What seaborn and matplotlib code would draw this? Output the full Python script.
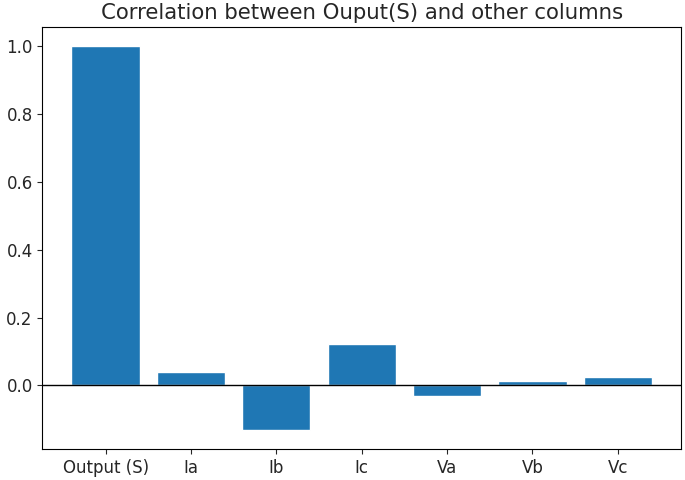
import matplotlib
matplotlib.use('Agg')
import matplotlib.pyplot as plt
import pandas as pd
import seaborn as sns

columns = ['Output (S)', 'Ia', 'Ib', 'Ic', 'Va', 'Vb', 'Vc']
correlations = [1.0, 0.041, -0.130, 0.122, -0.032, 0.014, 0.025]

df = pd.DataFrame({'column': columns, 'corr': correlations})

sns.set_style('ticks')
plt.rcParams['font.family'] = ['DejaVu Sans']

fig, ax = plt.subplots(figsize=(6.85, 4.8), dpi=100)
sns.barplot(x='column', y='corr', data=df, ax=ax, color='#1f77b4',
            saturation=1, width=0.8)
ax.axhline(0, color='black', linewidth=1)
ax.set_title('Correlation between Ouput(S) and other columns', fontsize=15.3)
ax.set_xlabel('')
ax.set_ylabel('')
ax.tick_params(labelsize=12)
for spine in ax.spines.values():
    spine.set_visible(True)
    spine.set_color('black')
# matplotlib-like default margins around the bars
ax.set_xlim(-0.74, 6.74)

fig.subplots_adjust(left=0.062, right=0.994, top=0.944, bottom=0.065)
fig.savefig('out.png', dpi=100)
